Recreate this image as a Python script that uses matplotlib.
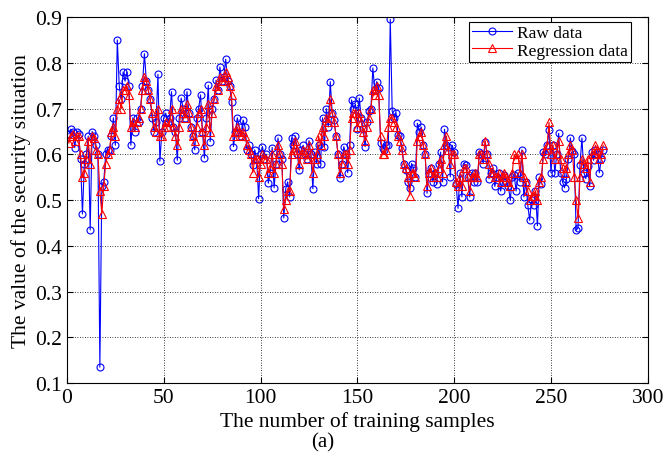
import numpy as np
import matplotlib
matplotlib.use("Agg")
from matplotlib import pyplot as plt

# raw security situation values, samples 1..277
raw = [0.645, 0.655, 0.650, 0.615, 0.650, 0.645, 0.590, 0.470, 0.580, 0.600,
       0.640, 0.435, 0.650, 0.640, 0.620, 0.600, 0.135, 0.530, 0.540, 0.600,
       0.610, 0.610, 0.640, 0.680, 0.620, 0.850, 0.750, 0.720, 0.780, 0.760,
       0.780, 0.750, 0.620, 0.680, 0.650, 0.680, 0.670, 0.700, 0.750, 0.820,
       0.760, 0.740, 0.720, 0.680, 0.650, 0.670, 0.775, 0.585, 0.650, 0.680,
       0.690, 0.670, 0.680, 0.737, 0.660, 0.650, 0.587, 0.680, 0.723, 0.700,
       0.680, 0.737, 0.690, 0.660, 0.640, 0.610, 0.680, 0.700, 0.730, 0.650,
       0.592, 0.680, 0.751, 0.628, 0.700, 0.720, 0.762, 0.740, 0.791, 0.760,
       0.770, 0.808, 0.760, 0.750, 0.715, 0.617, 0.650, 0.680, 0.660, 0.640,
       0.675, 0.660, 0.610, 0.620, 0.600, 0.577, 0.610, 0.590, 0.503, 0.600,
       0.617, 0.590, 0.600, 0.537, 0.560, 0.615, 0.527, 0.580, 0.636, 0.600,
       0.590, 0.461, 0.525, 0.540, 0.507, 0.636, 0.620, 0.640, 0.600, 0.566,
       0.610, 0.620, 0.600, 0.590, 0.630, 0.600, 0.525, 0.605, 0.580, 0.620,
       0.580, 0.680, 0.617, 0.700, 0.660, 0.759, 0.690, 0.675, 0.640, 0.600,
       0.548, 0.580, 0.617, 0.600, 0.560, 0.620, 0.719, 0.700, 0.710, 0.655,
       0.723, 0.680, 0.655, 0.617, 0.670, 0.694, 0.700, 0.789, 0.740, 0.759,
       0.745, 0.624, 0.615, 0.610, 0.620, 0.620, 0.895, 0.694, 0.680, 0.690,
       0.642, 0.640, 0.615, 0.580, 0.566, 0.540, 0.526, 0.580, 0.570, 0.550,
       0.668, 0.650, 0.660, 0.620, 0.600, 0.515, 0.560, 0.570, 0.540, 0.560,
       0.535, 0.580, 0.605, 0.540, 0.655, 0.620, 0.617, 0.551, 0.620, 0.605,
       0.535, 0.482, 0.560, 0.507, 0.580, 0.577, 0.550, 0.507, 0.560, 0.540,
       0.560, 0.540, 0.605, 0.600, 0.580, 0.628, 0.600, 0.547, 0.560, 0.570,
       0.530, 0.550, 0.560, 0.520, 0.540, 0.555, 0.540, 0.530, 0.500, 0.550,
       0.555, 0.520, 0.560, 0.540, 0.610, 0.507, 0.540, 0.490, 0.456, 0.500,
       0.490, 0.520, 0.444, 0.550, 0.535, 0.605, 0.600, 0.620, 0.653, 0.560,
       0.620, 0.560, 0.600, 0.646, 0.560, 0.540, 0.527, 0.547, 0.590, 0.636,
       0.608, 0.600, 0.434, 0.440, 0.577, 0.636, 0.560, 0.547, 0.575, 0.530,
       0.605, 0.587, 0.610, 0.600, 0.560, 0.590, 0.610]

# regression output, samples 1..277
regression = [0.625, 0.640, 0.645, 0.630, 0.640, 0.640, 0.600, 0.550, 0.560, 0.590,
              0.630, 0.580, 0.640, 0.635, 0.610, 0.600, 0.520, 0.470, 0.530, 0.580,
              0.600, 0.610, 0.650, 0.660, 0.640, 0.700, 0.720, 0.700, 0.740, 0.740,
              0.750, 0.730, 0.660, 0.670, 0.660, 0.670, 0.680, 0.700, 0.740, 0.770,
              0.760, 0.740, 0.720, 0.690, 0.660, 0.650, 0.700, 0.640, 0.640, 0.660,
              0.670, 0.660, 0.670, 0.700, 0.660, 0.640, 0.620, 0.660, 0.700, 0.690,
              0.680, 0.710, 0.690, 0.660, 0.640, 0.630, 0.660, 0.690, 0.700, 0.650,
              0.620, 0.660, 0.710, 0.650, 0.690, 0.720, 0.750, 0.740, 0.770, 0.760,
              0.760, 0.780, 0.770, 0.750, 0.730, 0.640, 0.650, 0.660, 0.650, 0.640,
              0.650, 0.640, 0.620, 0.610, 0.600, 0.560, 0.590, 0.590, 0.550, 0.580,
              0.600, 0.590, 0.590, 0.560, 0.570, 0.600, 0.560, 0.580, 0.620, 0.600,
              0.580, 0.480, 0.500, 0.520, 0.520, 0.600, 0.610, 0.630, 0.610, 0.580,
              0.600, 0.610, 0.600, 0.590, 0.620, 0.600, 0.560, 0.590, 0.600, 0.640,
              0.620, 0.660, 0.640, 0.680, 0.670, 0.720, 0.690, 0.670, 0.640, 0.600,
              0.560, 0.580, 0.600, 0.600, 0.580, 0.610, 0.680, 0.690, 0.690, 0.660,
              0.690, 0.670, 0.650, 0.630, 0.660, 0.680, 0.700, 0.740, 0.730, 0.750,
              0.730, 0.640, 0.600, 0.600, 0.610, 0.660, 0.680, 0.680, 0.670, 0.660,
              0.640, 0.630, 0.610, 0.580, 0.570, 0.550, 0.510, 0.560, 0.560, 0.550,
              0.630, 0.640, 0.650, 0.620, 0.600, 0.530, 0.560, 0.570, 0.550, 0.560,
              0.550, 0.570, 0.590, 0.560, 0.620, 0.640, 0.610, 0.580, 0.600, 0.600,
              0.540, 0.530, 0.550, 0.530, 0.570, 0.570, 0.550, 0.520, 0.550, 0.550,
              0.560, 0.550, 0.600, 0.600, 0.590, 0.630, 0.600, 0.580, 0.560, 0.560,
              0.550, 0.550, 0.560, 0.540, 0.550, 0.560, 0.550, 0.540, 0.530, 0.560,
              0.600, 0.590, 0.600, 0.560, 0.600, 0.550, 0.540, 0.520, 0.500, 0.510,
              0.510, 0.520, 0.500, 0.540, 0.550, 0.590, 0.610, 0.620, 0.670, 0.600,
              0.620, 0.590, 0.600, 0.630, 0.590, 0.570, 0.560, 0.570, 0.600, 0.620,
              0.610, 0.550, 0.500, 0.460, 0.550, 0.590, 0.580, 0.570, 0.590, 0.540,
              0.600, 0.600, 0.620, 0.610, 0.590, 0.600, 0.620]

samples = np.arange(1, len(raw) + 1)
x_ticks = [0, 50, 100, 150, 200, 250, 300]
y_ticks = [0.1, 0.2, 0.3, 0.4, 0.5, 0.6, 0.7, 0.8, 0.9]

plt.rcParams['font.family'] = ['Liberation Serif', 'DejaVu Serif']

fig = plt.figure(figsize=(6.63, 4.64), dpi=100)
ax = fig.add_axes([0.101, 0.172, 0.876, 0.789])

ax.plot(samples, raw, color='#0000ff', lw=0.8, marker='o', ms=5,
        mfc='none', mec='#0000ff', mew=0.8, label='Raw data')
ax.plot(samples, regression, color='#ff0000', lw=0.8, marker='^', ms=5.5,
        mfc='none', mec='#ff0000', mew=0.8, label='Regression data')

ax.set_xlim(0, 300)
ax.set_ylim(0.1, 0.9)
ax.set_xticks(x_ticks)
ax.set_yticks(y_ticks)
ax.set_yticklabels([f'{v:g}' for v in y_ticks])
ax.tick_params(direction='in', labelsize=15.5, length=4, top=True, right=True)
ax.grid(True, color='black', linestyle=(0, (1, 2)), linewidth=0.6)

ax.set_xlabel('The number of training samples', fontsize=15.5, labelpad=3)
ax.set_ylabel('The value of the security situation', fontsize=15.5)
ax.yaxis.set_label_coords(-0.062, 0.5)

leg = ax.legend(loc='upper right', bbox_to_anchor=(0.972, 0.987), fontsize=12.5,
                fancybox=False, framealpha=1, edgecolor='black', borderpad=0.2,
                handlelength=2.3, handletextpad=0.3, labelspacing=0.05,
                borderaxespad=0)
leg.get_frame().set_linewidth(0.8)

fig.text(0.486, 0.046, '(a)', ha='center', va='center', fontsize=15)

fig.savefig('out.png', dpi=100)
